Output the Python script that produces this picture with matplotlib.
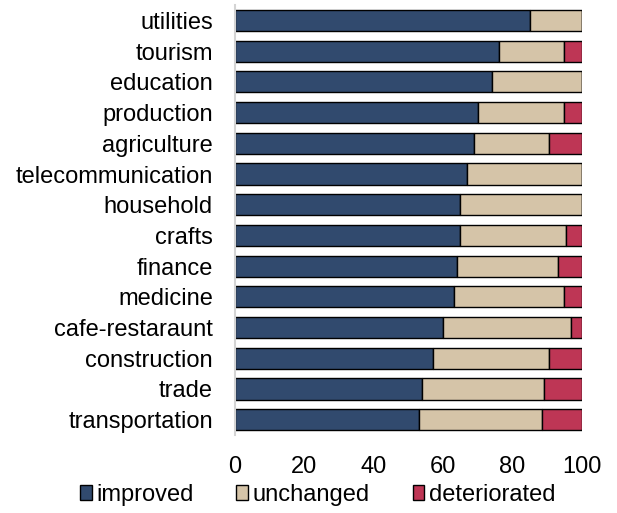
import numpy as np
import matplotlib.pyplot as plt

plt.rcParams['font.family'] = ['Liberation Sans', 'DejaVu Sans']

# Data (percent), top to bottom as in the chart
categories = ['utilities', 'tourism', 'education', 'production', 'agriculture',
              'telecommunication', 'household', 'crafts', 'finance', 'medicine',
              'cafe-restaraunt', 'construction', 'trade', 'transportation']
improved = [85, 76, 74, 70, 69, 67, 65, 65, 64, 63, 60, 57, 54, 53]
unchanged = [15, 19, 26, 25, 21.5, 33, 35, 30.5, 29, 32, 37, 33.5, 35, 35.5]
deteriorated = [0, 5, 0, 5, 9.5, 0, 0, 4.5, 7, 5, 3, 9.5, 11, 11.5]

colors = ['#314A6E', '#D5C4A8', '#BE3655']
labels = ['improved', 'unchanged', 'deteriorated']

fig = plt.figure(figsize=(6.17, 5.13), dpi=100)
ax = fig.add_axes([0.381, 0.152, 0.562, 0.838])

y = np.arange(len(categories))
left = np.zeros(len(categories))
for vals, c, lab in zip([improved, unchanged, deteriorated], colors, labels):
    vals = np.array(vals, dtype=float)
    ax.barh(y, vals, left=left, height=0.69, color=c, edgecolor='black',
            linewidth=1, label=lab)
    left += vals

ax.set_ylim(len(categories) - 0.5, -0.5)
ax.set_xlim(0, 100)
ax.set_yticks(y)
ax.set_yticklabels(categories)
ax.set_xticks([0, 20, 40, 60, 80, 100])
ax.tick_params(axis='both', length=0, labelsize=17)
ax.tick_params(axis='x', pad=15)
ax.tick_params(axis='y', pad=16)

for s in ['top', 'right', 'bottom']:
    ax.spines[s].set_visible(False)
ax.spines['left'].set_color('#d4d4d4')
ax.spines['left'].set_linewidth(1.5)

fig.legend(loc='center', bbox_to_anchor=(0.515, 0.036), ncol=3,
           frameon=False, fontsize=17, handlelength=0.5, handleheight=0.6,
           handletextpad=0.2, columnspacing=1.8, borderpad=0)

fig.savefig('out.png', dpi=100)
